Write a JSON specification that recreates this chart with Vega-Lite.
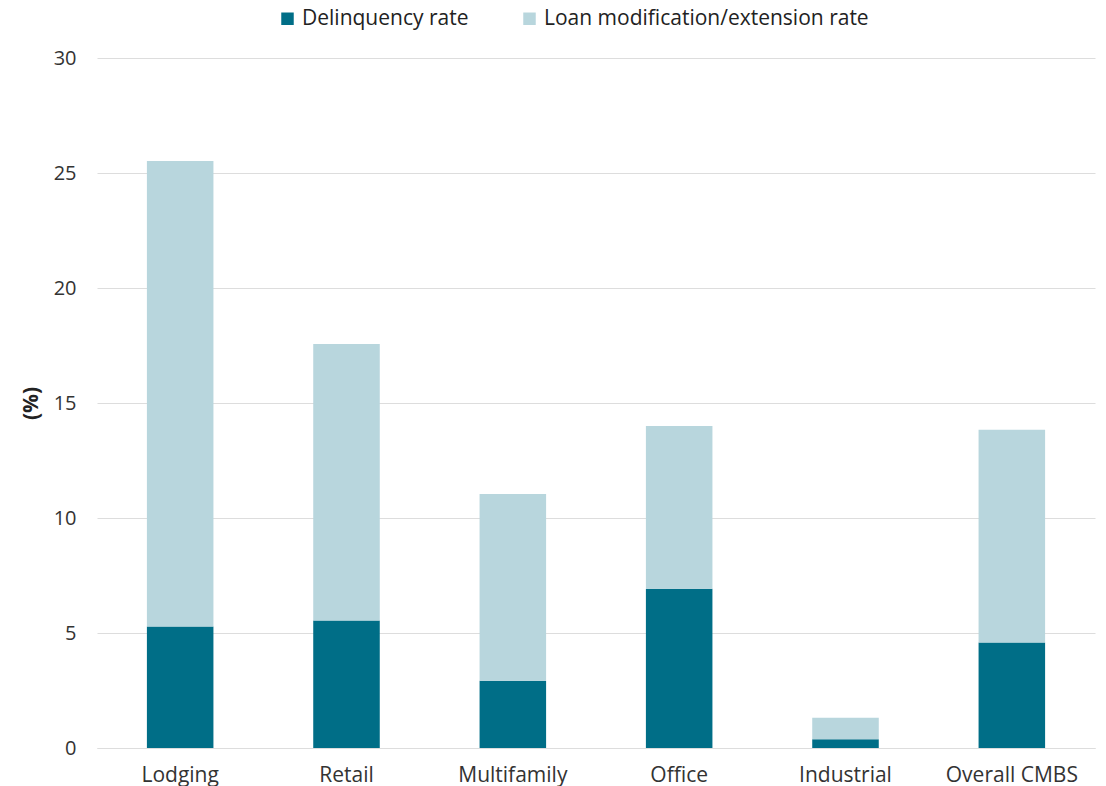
{
  "$schema": "https://vega.github.io/schema/vega-lite/v6.json",
  "width": 998,
  "height": 690,
  "autosize": "none",
  "padding": {"left": 97, "top": 58, "right": 11, "bottom": 38},
  "background": "white",
  "config": {
    "font": "Open Sans",
    "view": {"stroke": null},
    "axis": {"labelFont": "Open Sans", "titleFont": "Open Sans", "labelColor": "#333333", "titleColor": "#222222"},
    "legend": {"labelFont": "Open Sans"}
  },
  "data": {
    "values": [
      {"category": "Lodging", "series": "Delinquency rate", "value": 5.28},
      {"category": "Lodging", "series": "Loan modification/extension rate", "value": 20.24},
      {"category": "Retail", "series": "Delinquency rate", "value": 5.54},
      {"category": "Retail", "series": "Loan modification/extension rate", "value": 12.03},
      {"category": "Multifamily", "series": "Delinquency rate", "value": 2.92},
      {"category": "Multifamily", "series": "Loan modification/extension rate", "value": 8.12},
      {"category": "Office", "series": "Delinquency rate", "value": 6.92},
      {"category": "Office", "series": "Loan modification/extension rate", "value": 7.08},
      {"category": "Industrial", "series": "Delinquency rate", "value": 0.38},
      {"category": "Industrial", "series": "Loan modification/extension rate", "value": 0.93},
      {"category": "Overall CMBS", "series": "Delinquency rate", "value": 4.59},
      {"category": "Overall CMBS", "series": "Loan modification/extension rate", "value": 9.25}
    ]
  },
  "mark": {"type": "bar"},
  "encoding": {
    "x": {
      "field": "category",
      "type": "nominal",
      "sort": ["Lodging", "Retail", "Multifamily", "Office", "Industrial", "Overall CMBS"],
      "scale": {"paddingInner": 0.6, "paddingOuter": 0.3},
      "axis": {
        "title": null,
        "labelAngle": 0,
        "labelFontSize": 21,
        "labelPadding": 16,
        "labelLimit": 300,
        "ticks": false,
        "domain": true,
        "domainColor": "#dddddd",
        "labelColor": "#333333"
      }
    },
    "y": {
      "field": "value",
      "type": "quantitative",
      "stack": "zero",
      "scale": {"domain": [0, 30], "nice": false},
      "axis": {
        "title": "(%)",
        "titleFontSize": 21,
        "titleFontWeight": "bold",
        "titlePadding": 12,
        "values": [0, 5, 10, 15, 20, 25, 30],
        "labelFontSize": 20,
        "labelPadding": 21,
        "ticks": false,
        "domain": false,
        "grid": true,
        "gridColor": "#dddddd",
        "gridWidth": 1
      }
    },
    "color": {
      "field": "series",
      "type": "nominal",
      "scale": {
        "domain": ["Delinquency rate", "Loan modification/extension rate"],
        "range": ["#006E87", "#B8D6DD"]
      },
      "legend": {
        "title": null,
        "orient": "none",
        "legendX": 180,
        "legendY": -50,
        "direction": "horizontal",
        "symbolType": "square",
        "symbolSize": 156,
        "symbolStrokeWidth": 0,
        "labelFontSize": 21,
        "labelLimit": 500,
        "labelColor": "#222222",
        "labelOffset": 4,
        "columnPadding": 50
      }
    },
    "order": {"field": "series", "sort": "ascending"}
  }
}
